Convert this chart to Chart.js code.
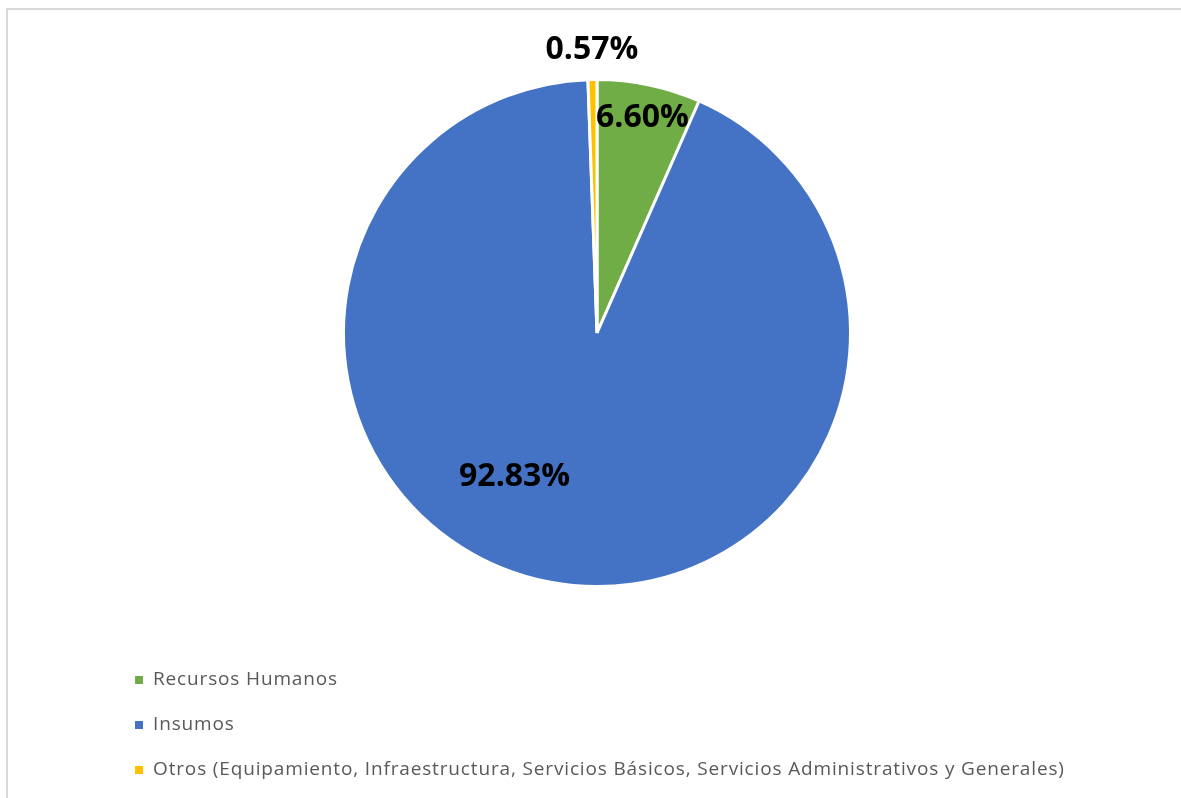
<!DOCTYPE html>
<html>
<head>
<meta charset="utf-8">
<script src="https://cdn.jsdelivr.net/npm/chart.js@4/dist/chart.umd.min.js"></script>
<style>
  html, body { margin: 0; padding: 0; background: #ffffff; }
  #wrap { position: relative; width: 1181px; height: 798px; overflow: hidden; }
  #frame { position: absolute; left: 6px; top: 8px; right: -4px; bottom: -4px;
           border-left: 2px solid #d9d9d9; border-top: 2px solid #d9d9d9; }
  canvas { position: absolute; left: 0; top: 0; }
</style>
</head>
<body>
<div id="wrap">
  <div id="frame"></div>
  <canvas id="c" width="1181" height="798"></canvas>
</div>
<script>
// Distribución del gasto por rubro (%)
const categories = [
  'Recursos Humanos',
  'Insumos',
  'Otros (Equipamiento, Infraestructura, Servicios Básicos, Servicios Administrativos y Generales)'
];
const shares = [6.60, 92.83, 0.57];
const valueLabels = ['6.60%', '92.83%', '0.57%'];
const sliceColors = ['#70ad47', '#4472c4', '#ffc000'];

// Where each value label sits, as a fraction of the radius and an optional
// fixed screen angle (degrees, clockwise from 3 o'clock).
const labelRadius = [0.87, 0.65, 1.12];
const labelAngle = [null, 120, null];

const valueLabelPlugin = {
  id: 'valueLabels',
  afterDatasetsDraw(chart) {
    const ctx = chart.ctx;
    const meta = chart.getDatasetMeta(0);
    ctx.save();
    ctx.letterSpacing = '0px';
    ctx.font = 'bold 32px "Open Sans", "DejaVu Sans", sans-serif';
    ctx.fillStyle = '#000000';
    ctx.textAlign = 'center';
    ctx.textBaseline = 'middle';
    meta.data.forEach((arc, i) => {
      const p = arc.getProps(['x', 'y', 'startAngle', 'endAngle', 'outerRadius'], true);
      const ang = labelAngle[i] !== null ? labelAngle[i] * Math.PI / 180 : (p.startAngle + p.endAngle) / 2;
      const r = p.outerRadius * labelRadius[i];
      ctx.fillText(valueLabels[i], p.x + Math.cos(ang) * r, p.y + Math.sin(ang) * r + 1);
    });
    ctx.restore();
  }
};

const legendPlugin = {
  id: 'sideLegend',
  afterDraw(chart) {
    const ctx = chart.ctx;
    const x0 = 135, y0 = 680, step = 45, box = 8;
    ctx.save();
    ctx.font = '19px "Open Sans", "DejaVu Sans", sans-serif';
    ctx.letterSpacing = '0.85px';
    ctx.textBaseline = 'middle';
    ctx.textAlign = 'left';
    categories.forEach((name, i) => {
      const y = y0 + i * step;
      ctx.fillStyle = sliceColors[i];
      ctx.fillRect(x0, y - box / 2, box, box);
      ctx.fillStyle = '#595959';
      ctx.fillText(name, x0 + 18, y);
    });
    ctx.restore();
  }
};

new Chart(document.getElementById('c'), {
  type: 'pie',
  data: {
    labels: categories,
    datasets: [{
      data: shares,
      backgroundColor: sliceColors,
      borderColor: '#ffffff',
      borderWidth: 3,
      hoverOffset: 0
    }]
  },
  options: {
    responsive: false,
    animation: false,
    events: [],
    layout: { padding: { left: 342, top: 78, right: 329, bottom: 210 } },
    plugins: {
      legend: { display: false },
      tooltip: { enabled: false }
    }
  },
  plugins: [valueLabelPlugin, legendPlugin]
});
</script>
</body>
</html>
